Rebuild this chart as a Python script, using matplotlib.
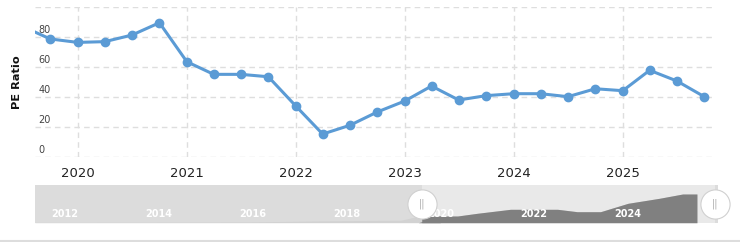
import numpy as np
import matplotlib
matplotlib.use("Agg")
import matplotlib.pyplot as plt
import matplotlib.dates as mdates
from matplotlib.lines import Line2D

# quarterly PE ratio (first point runs off the left edge)
dates = ["2019-06-30", "2019-09-30", "2019-12-31", "2020-03-31", "2020-06-30",
         "2020-09-30", "2020-12-31", "2021-03-31", "2021-06-30", "2021-09-30",
         "2021-12-31", "2022-03-31", "2022-06-30", "2022-09-30", "2022-12-31",
         "2023-03-31", "2023-06-30", "2023-09-30", "2023-12-31", "2024-03-31",
         "2024-06-30", "2024-09-30", "2024-12-31", "2025-03-31", "2025-06-30",
         "2025-09-30"]
pe = [87.0, 78.7, 76.4, 76.9, 81.3, 89.5, 63.5, 55.1, 55.1, 53.5,
      34.0, 15.3, 21.1, 30.0, 37.3, 47.3, 38.0, 40.9, 42.2, 42.2,
      40.2, 45.5, 44.2, 57.8, 50.7, 40.2]

year_ticks = ["2020", "2021", "2022", "2023", "2024", "2025"]
y_ticks = [0, 20, 40, 60, 80]

# navigator series (long history, shown as a small area chart)
nav_dates = ["2011-05-15", "2014-01-01", "2016-01-01", "2017-06-01", "2019-03-01",
             "2019-07-15", "2020-01-01", "2020-05-15", "2020-10-15", "2021-07-01",
             "2022-07-01", "2022-12-01", "2023-06-01", "2024-01-01", "2024-09-01",
             "2025-03-01", "2025-06-20"]
nav_vals = [0.3, 0.5, 0.8, 1.8, 2.5, 6.5, 6.7, 6.7, 9.4, 13.4,
            13.4, 11.0, 11.0, 19.4, 24.4, 28.7, 28.7]
nav_labels = ["2012", "2014", "2016", "2018", "2020", "2022", "2024"]

view_start = np.datetime64("2019-08-10")
view_end = np.datetime64("2025-11-05")
nav_start = np.datetime64("2011-05-15")
nav_end = np.datetime64("2025-12-01")

W, H = 740, 242
fig = plt.figure(figsize=(W / 100, H / 100), dpi=100)
fig.patch.set_facecolor("white")

# main chart
ax = fig.add_axes([35 / W, 1 - 157 / H, 680 / W, 150 / H])
x = np.array(dates, dtype="datetime64[D]")
ax.plot(x, pe, "-o", color="#5b9bd5", lw=2.2, ms=6, mec="#5b9bd5", clip_on=True, zorder=3)
ax.set_xlim(view_start, view_end)
ax.set_ylim(0, 100)
for s in ax.spines.values():
    s.set_visible(False)

ax.set_xticks(np.array([y + "-01-01" for y in year_ticks], dtype="datetime64[D]"))
ax.xaxis.set_major_formatter(mdates.DateFormatter("%Y"))
ax.tick_params(axis="x", length=0, pad=7, labelsize=9.5, labelcolor="#222222")
ax.set_yticks(y_ticks + [100])
ax.tick_params(axis="y", length=0, labelleft=False)
ax.grid(True, color="#dedede", ls=(0, (4, 3)), lw=1)
ax.set_axisbelow(True)

for v in y_ticks:
    ax.text(0.005, v + 1.5, str(v), transform=ax.get_yaxis_transform(),
            fontsize=7, color="#444444", ha="left", va="bottom")

fig.text(17 / W, 1 - 82 / H, "PE Ratio", rotation=90, fontsize=8.2,
         fontweight="bold", ha="center", va="center", color="#111111")

# navigator
nav = fig.add_axes([35 / W, 1 - 222.7 / H, 683 / W, 37.7 / H])
nav.set_facecolor("#dcdcdc")
nav.set_xlim(nav_start, nav_end)
nav.set_ylim(0, 37.7)
for s in nav.spines.values():
    s.set_visible(False)
nav.set_xticks([])
nav.set_yticks([])
nav.axvspan(view_start, view_end, color="#e9e9e9", lw=0, zorder=0)

nx = np.array(nav_dates, dtype="datetime64[D]")
nv = np.array(nav_vals)
inside = nx >= view_start
nav.fill_between(nx, 0, nv, color="#d2d2d2", lw=0, zorder=1)
nav.fill_between(nx, 0, nv, where=inside, color="#808080", lw=0, zorder=2, interpolate=True)
nav.fill_between([view_start, nx[inside][0]], 0, [6.6, nv[inside][0]], color="#808080", lw=0, zorder=2)

for lab in nav_labels:
    nav.text(np.datetime64(lab + "-01-01"), 8.7, lab, fontsize=7, color="white",
             ha="center", va="center", fontweight="bold", zorder=3)

# handles
for d in [view_start, view_end]:
    nav.plot([d], [0.5], "o", ms=21, mfc="white", mec="#d0d0d0", mew=0.8,
             transform=nav.get_xaxis_transform(), clip_on=False, zorder=5)
    nav.text(d, 0.5, "||", transform=nav.get_xaxis_transform(), fontsize=7,
             color="#aaaaaa", ha="center", va="center", zorder=6, clip_on=False)

# bottom rule
fig.add_artist(Line2D([0, 1], [1 - 240.5 / H] * 2, color="#dddddd", lw=1.5))

fig.savefig("out.png", dpi=100)
